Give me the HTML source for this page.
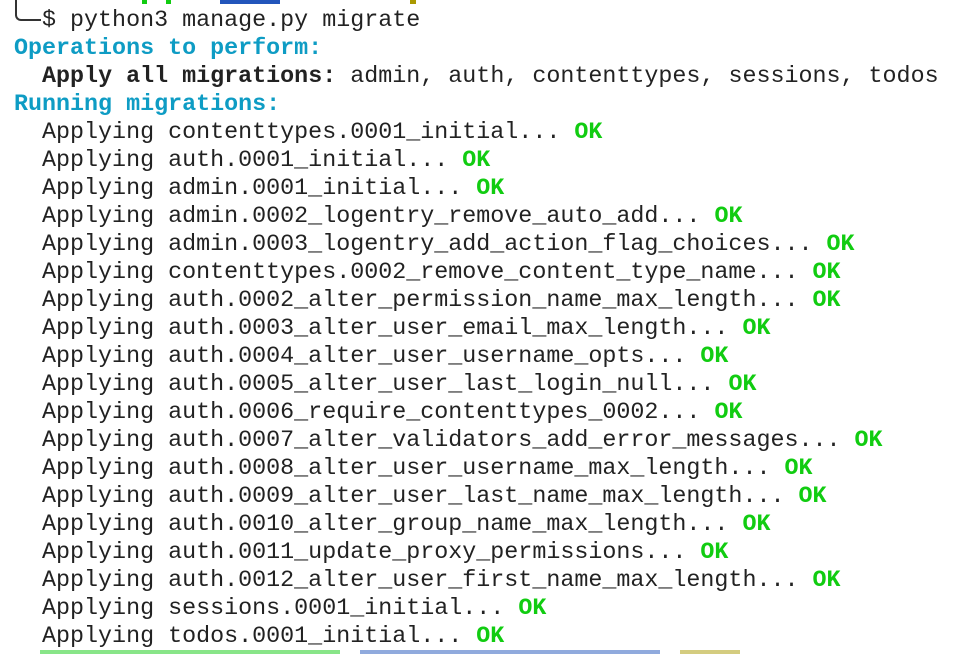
<!DOCTYPE html>
<html><head><meta charset="utf-8"><style>
html,body{margin:0;padding:0;background:#fff;width:966px;height:654px;overflow:hidden}
pre{position:absolute;left:14px;top:7px;margin:0;font-family:"Liberation Mono","DejaVu Sans Mono",monospace;font-size:23.35px;line-height:28px;color:#222;letter-spacing:0}
.c{color:#0e9cc4;font-weight:bold}
.g{color:#11cc11;font-weight:bold}
b{font-weight:bold}
.corner{position:absolute;left:15px;top:0;width:24px;height:19px;border-left:2px solid #333;border-bottom:2px solid #333;border-bottom-left-radius:6px}
.m{position:absolute;height:4px}
</style></head><body>
<div class="corner"></div>
<div class="m" style="left:142px;top:0;width:5px;background:#1c1"></div>
<div class="m" style="left:166px;top:0;width:5px;background:#1c1"></div>
<div class="m" style="left:220px;top:0;width:60px;background:#2255bb"></div>
<div class="m" style="left:410px;top:0;width:6px;background:#aa9900"></div>
<div class="m" style="left:40px;top:650px;width:300px;background:#1c1;opacity:.5"></div>
<div class="m" style="left:360px;top:650px;width:300px;background:#2255bb;opacity:.5"></div>
<div class="m" style="left:680px;top:650px;width:60px;background:#aa9900;opacity:.5"></div>
<pre>  $ python3 manage.py migrate
<span class="c">Operations to perform:</span>
  <b>Apply all migrations:</b> admin, auth, contenttypes, sessions, todos
<span class="c">Running migrations:</span>
  Applying contenttypes.0001_initial... <span class="g">OK</span>
  Applying auth.0001_initial... <span class="g">OK</span>
  Applying admin.0001_initial... <span class="g">OK</span>
  Applying admin.0002_logentry_remove_auto_add... <span class="g">OK</span>
  Applying admin.0003_logentry_add_action_flag_choices... <span class="g">OK</span>
  Applying contenttypes.0002_remove_content_type_name... <span class="g">OK</span>
  Applying auth.0002_alter_permission_name_max_length... <span class="g">OK</span>
  Applying auth.0003_alter_user_email_max_length... <span class="g">OK</span>
  Applying auth.0004_alter_user_username_opts... <span class="g">OK</span>
  Applying auth.0005_alter_user_last_login_null... <span class="g">OK</span>
  Applying auth.0006_require_contenttypes_0002... <span class="g">OK</span>
  Applying auth.0007_alter_validators_add_error_messages... <span class="g">OK</span>
  Applying auth.0008_alter_user_username_max_length... <span class="g">OK</span>
  Applying auth.0009_alter_user_last_name_max_length... <span class="g">OK</span>
  Applying auth.0010_alter_group_name_max_length... <span class="g">OK</span>
  Applying auth.0011_update_proxy_permissions... <span class="g">OK</span>
  Applying auth.0012_alter_user_first_name_max_length... <span class="g">OK</span>
  Applying sessions.0001_initial... <span class="g">OK</span>
  Applying todos.0001_initial... <span class="g">OK</span>
</pre>
</body></html>
